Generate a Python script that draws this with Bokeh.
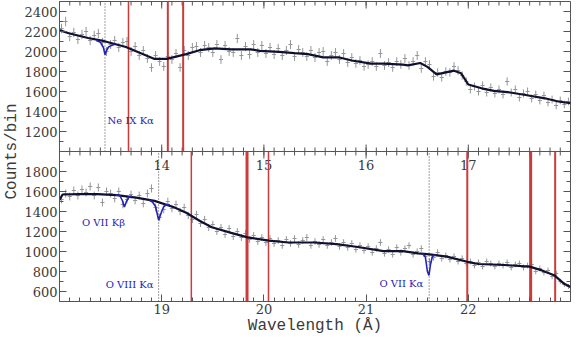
import numpy as np
from bokeh.plotting import figure
from bokeh.models import Range1d, LinearAxis, FixedTicker, Span
from bokeh.embed import file_html
from bokeh.resources import INLINE
from bokeh.core.properties import value

# ---------------- data: upper panel (13-18 A) ----------------
top_xlim = (13.0, 18.0)
top_ylim = (1000, 2500)
top_wl = np.round(np.arange(13.02, 18.0, 0.04), 2)
top_counts = [2230, 2300, 2150, 2190, 2120, 2170, 2200, 2110, 2160, 2180,
              2090, 2000, 2070, 2110, 2040, 2090, 2100, 2000, 2050, 1960,
              2010, 1930, 1840, 1960, 1900, 1850, 1950, 1920, 1980, 1840,
              2010, 1960, 2040, 2050, 1990, 2060, 2040, 1990, 2070, 1920,
              2060, 2000, 1990, 2130, 1960, 2050, 1970, 2070, 1990, 2060,
              1980, 2040, 1970, 2030, 1960, 2010, 2070, 1950, 2020, 1990,
              1950, 2010, 1940, 1990, 2000, 1900, 1960, 1990, 1920, 1980,
              1890, 1940, 1880, 1910, 1850, 1870, 1900, 1850, 1980, 1860,
              1890, 1840, 1900, 1870, 1930, 1860, 1900, 1960, 1830, 1900,
              1870, 1750, 1790, 1740, 1800, 1790, 1850, 1810, 1760, 1700,
              1620, 1650, 1600, 1660, 1590, 1640, 1580, 1620, 1570, 1700,
              1590, 1620, 1540, 1580, 1600, 1530, 1570, 1510, 1560, 1490,
              1520, 1460, 1510, 1470, 1500]
top_model_wl = [13.00, 13.09, 13.28, 13.44, 13.65, 13.93, 14.05, 14.24, 14.37, 14.52,
                14.68, 14.87, 14.96, 15.15, 15.30, 15.43, 15.58, 15.73, 15.86, 16.05,
                16.17, 16.36, 16.41, 16.53, 16.60, 16.69, 16.86, 16.93, 17.00, 17.13,
                17.25, 17.41, 17.56, 17.75, 17.88, 18.00]
top_model = [2214, 2183, 2135, 2103, 2045, 1926, 1926, 1974, 2013, 2032,
             2022, 2022, 2006, 1997, 1984, 1974, 1942, 1942, 1910, 1878,
             1878, 1868, 1862, 1885, 1846, 1772, 1808, 1782, 1670, 1632,
             1606, 1590, 1565, 1532, 1500, 1484]
# absorption model near Ne IX
top_abs_wl = [13.36, 13.40, 13.43, 13.445, 13.46, 13.48, 13.51, 13.54]
top_abs = [2109, 2092, 2040, 1969, 2010, 2045, 2061, 2073]
top_red = [13.675, 14.06, 14.21]
top_red_w = [1.5, 2, 2]
top_dot = [13.445]

# ---------------- data: lower panel (18-23 A) ----------------
bot_xlim = (18.0, 23.0)
bot_ylim = (500, 2000)
bot_wl = np.round(np.arange(18.02, 23.0, 0.04), 2)
bot_counts = [1520, 1580, 1550, 1610, 1560, 1620, 1590, 1650, 1560, 1640,
              1490, 1600, 1580, 1530, 1600, 1470, 1520, 1570, 1510, 1560,
              1480, 1580, 1630, 1440, 1340, 1420, 1500, 1430, 1470, 1400,
              1440, 1360, 1320, 1370, 1280, 1320, 1240, 1270, 1200, 1240,
              1170, 1230, 1150, 1200, 1140, 1180, 1120, 1160, 1100, 1140,
              1090, 1130, 1080, 1110, 1060, 1120, 1080, 1130, 1070, 1110,
              1140, 1060, 1100, 1070, 1120, 1060, 1090, 1130, 1050, 1090,
              1040, 1080, 1020, 1060, 1010, 1050, 990, 1030, 1090, 980,
              1020, 970, 1040, 990, 1030, 1060, 970, 1000, 1030, 950,
              900, 940, 990, 930, 960, 920, 950, 900, 930, 880,
              900, 860, 890, 850, 900, 880, 850, 880, 860, 890,
              840, 870, 880, 840, 860, 870, 800, 830, 790, 810,
              750, 780, 700, 670, 650]
bot_model_wl = [18.00, 18.03, 18.19, 18.37, 18.56, 18.75, 18.93, 19.12, 19.24, 19.37,
                19.49, 19.68, 19.84, 20.05, 20.24, 20.49, 20.71, 20.92, 21.17, 21.36,
                21.51, 21.62, 21.79, 21.99, 22.10, 22.35, 22.60, 22.72, 22.84, 22.93,
                23.00]
bot_model = [1516, 1570, 1574, 1574, 1564, 1538, 1506, 1442, 1388, 1308,
             1243, 1186, 1141, 1109, 1090, 1090, 1074, 1045, 1003, 1003,
             981, 971, 949, 897, 875, 865, 849, 811, 763, 683,
             644]
kb_wl = [18.55, 18.59, 18.615, 18.635, 18.655, 18.68, 18.71]
kb = [1566, 1560, 1510, 1445, 1500, 1545, 1555]
o8_wl = [18.88, 18.91, 18.94, 18.97, 19.00, 19.02, 19.05, 19.08]
o8 = [1512, 1495, 1450, 1314, 1400, 1450, 1470, 1468]
o7_wl = [21.55, 21.58, 21.60, 21.615, 21.63, 21.65, 21.68]
o7 = [981, 945, 800, 760, 870, 955, 966]
bot_red = [19.29, 19.835, 20.045, 21.99, 22.61, 22.85]
bot_red_w = [1.5, 3, 1.5, 2, 3, 2]
bot_dot = [18.97, 21.617]

top_major = [14, 15, 16, 17]
bot_major = [19, 20, 21, 22]
top_yticks = [1200, 1400, 1600, 1800, 2000, 2200, 2400]
bot_yticks = [600, 800, 1000, 1200, 1400, 1600, 1800]

# ---------------- figure ----------------
GREY = "#959595"
AX = "#555555"
TXT = "#3a3a3a"
BLUE = "#2424b4"
RED = "#cc3a3a"
DOT = "#444444"
off = bot_ylim[1] - top_ylim[0]          # shift of upper panel into the shared frame
span = bot_ylim[1] - bot_ylim[0]
y_top_edge = bot_ylim[1] + span

p = figure(width=571, height=337, output_backend="svg", toolbar_location=None,
           x_range=Range1d(*bot_xlim), y_range=Range1d(bot_ylim[0], y_top_edge),
           x_axis_location=None, y_axis_location=None,
           min_border_left=0, min_border_right=1, min_border_top=1, min_border_bottom=0)
p.extra_x_ranges = {"top": Range1d(*top_xlim)}
p.extra_y_ranges = {"top": Range1d(top_ylim[0] - span, top_ylim[1])}
p.grid.visible = False
p.xgrid.visible = False
p.ygrid.visible = False
p.outline_line_color = AX
p.background_fill_color = "white"
p.border_fill_color = "white"

ytick_main = bot_yticks + [t + off for t in top_yticks]
ylabels = {t: str(t) for t in bot_yticks}
ylabels.update({t + off: str(t) for t in top_yticks})
yminor = list(np.arange(bot_ylim[0], y_top_edge + 1, 100))
xminor_b = list(np.round(np.arange(18.1, 23.0, 0.1), 2))
xminor_t = list(np.round(np.arange(13.1, 18.0, 0.1), 2))


def style(ax):
    ax.axis_line_color = AX
    ax.major_tick_line_color = AX
    ax.minor_tick_line_color = AX
    ax.major_tick_in = 7
    ax.major_tick_out = 0
    ax.minor_tick_in = 4
    ax.minor_tick_out = 0
    ax.major_label_text_font = "DejaVu Serif"
    ax.major_label_text_font_size = "13px"
    ax.major_label_text_color = TXT
    ax.major_label_standoff = 2
    ax.axis_label_text_font = "Liberation Mono"
    ax.axis_label_text_font_size = "16px"
    ax.axis_label_text_font_style = "normal"
    ax.axis_label_text_color = TXT
    ax.axis_label_standoff = 0


left = LinearAxis(ticker=FixedTicker(ticks=ytick_main, minor_ticks=yminor),
                  major_label_overrides=ylabels, axis_label="Counts/bin")
style(left)
p.add_layout(left, "left")
bottom = LinearAxis(ticker=FixedTicker(ticks=bot_major, minor_ticks=xminor_b),
                    axis_label="Wavelength (Å)")
style(bottom)
p.add_layout(bottom, "below")

# inward ticks on the right and top edges and on the boundary between panels
def edge_ticks(xs, ys, size, vertical, **kw):
    p.scatter(x=xs, y=ys, marker="dash", angle=(np.pi / 2 if vertical else 0.0),
              size=size, line_color=AX, line_width=1, **kw)

edge_ticks([bot_xlim[1]] * len(ytick_main), ytick_main, 14, False)
edge_ticks([bot_xlim[1]] * len(yminor), yminor, 8, False)
edge_ticks(top_major, [y_top_edge] * len(top_major), 14, True, x_range_name="top")
edge_ticks(xminor_t, [y_top_edge] * len(xminor_t), 8, True, x_range_name="top")
p.add_layout(Span(location=bot_ylim[1], dimension="width", line_color=AX, line_width=1))
edge_ticks(top_major, [bot_ylim[1]] * len(top_major), 14, True, x_range_name="top")
edge_ticks(xminor_t, [bot_ylim[1]] * len(xminor_t), 8, True, x_range_name="top")
p.text(x=top_major, y=[bot_ylim[1]] * len(top_major), text=[str(t) for t in top_major],
       x_range_name="top", y_offset=8, text_align="center", text_baseline="top",
       text_font=value("DejaVu Serif"), text_font_size="13px", text_color=TXT)

# ---------- upper panel ----------
kw_t = dict(x_range_name="top", y_range_name="top")
tc = np.array(top_counts, dtype=float)
te = np.sqrt(tc)
p.segment(x0=top_wl - 0.02, x1=top_wl + 0.02, y0=tc, y1=tc, line_color=GREY, line_width=1, **kw_t)
p.segment(x0=top_wl, x1=top_wl, y0=tc - te, y1=tc + te, line_color=GREY, line_width=1, **kw_t)
p.segment(x0=top_red, x1=top_red, y0=[top_ylim[0]] * 3, y1=[top_ylim[1]] * 3,
          line_color=RED, line_width=top_red_w, **kw_t)
p.segment(x0=top_dot, x1=top_dot, y0=[top_ylim[0]], y1=[top_ylim[1]],
          line_color=DOT, line_dash="1 2", line_width=1, **kw_t)
p.line(top_model_wl, top_model, line_color="#101030", line_width=2.2, **kw_t)
p.line(top_abs_wl, top_abs, line_color=BLUE, line_width=1.6, **kw_t)
p.text(x=[13.47], y=[1310], text=["Ne IX Kα"], text_align="left", text_baseline="middle",
       text_font=value("DejaVu Serif"), text_font_size="10px", text_color=BLUE, **kw_t)

# ---------- lower panel ----------
bc = np.array(bot_counts, dtype=float)
be = np.sqrt(bc)
p.segment(x0=bot_wl - 0.02, x1=bot_wl + 0.02, y0=bc, y1=bc, line_color=GREY, line_width=1)
p.segment(x0=bot_wl, x1=bot_wl, y0=bc - be, y1=bc + be, line_color=GREY, line_width=1)
p.segment(x0=bot_red, x1=bot_red, y0=[bot_ylim[0]] * len(bot_red), y1=[bot_ylim[1]] * len(bot_red),
          line_color=RED, line_width=bot_red_w)
p.segment(x0=bot_dot, x1=bot_dot, y0=[bot_ylim[0]] * 2, y1=[bot_ylim[1]] * 2,
          line_color=DOT, line_dash="1 2", line_width=1)
p.line(bot_model_wl, bot_model, line_color="#101030", line_width=2.2)
for xs, ys in ((kb_wl, kb), (o8_wl, o8), (o7_wl, o7)):
    p.line(xs, ys, line_color=BLUE, line_width=1.6)
p.text(x=[18.22], y=[1288], text=["O VII Kβ"], text_align="left", text_baseline="middle",
       text_font=value("DejaVu Serif"), text_font_size="10px", text_color=BLUE)
p.text(x=[18.92, 21.56], y=[673, 683], text=["O VIII Kα", "O VII Kα"], text_align="right",
       text_baseline="middle", text_font=value("DejaVu Serif"), text_font_size="10px", text_color=BLUE)

open("out.html", "w").write(file_html(p, INLINE))
